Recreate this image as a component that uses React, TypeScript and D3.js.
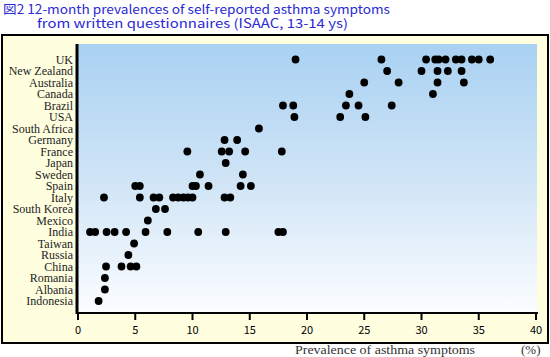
import React from "react";
import * as d3 from "d3";

const countries = [
  "UK", "New Zealand", "Australia", "Canada", "Brazil", "USA", "South Africa",
  "Germany", "France", "Japan", "Sweden", "Spain", "Italy", "South Korea",
  "Mexico", "India", "Taiwan", "Russia", "China", "Romania", "Albania", "Indonesia",
];

const prevalences: number[][] = [
  [19.0, 26.5, 30.4, 31.2, 31.5, 32.1, 33.0, 33.5, 34.4, 35.0, 36.0],
  [27.0, 30.0, 31.4, 32.3, 33.5],
  [25.0, 28.0, 31.4, 33.7],
  [23.7, 31.0],
  [17.9, 18.8, 23.4, 24.5, 27.4],
  [18.9, 22.9, 25.1],
  [15.8],
  [12.8, 13.9],
  [9.55, 12.55, 13.2, 14.6, 17.8],
  [12.9],
  [10.65, 14.4],
  [5.0, 5.4, 10.0, 10.3, 11.4, 14.2, 15.1],
  [2.27, 5.4, 6.6, 7.1, 8.3, 8.75, 9.2, 9.6, 10.0, 12.8, 13.3],
  [6.8, 7.6],
  [6.1],
  [1.05, 1.5, 2.5, 3.2, 4.2, 5.9, 7.8, 10.5, 12.9, 17.5, 17.9],
  [4.9],
  [4.4],
  [2.45, 3.8, 4.6, 5.1],
  [2.35],
  [2.35],
  [1.8],
];

const xTicks = [0, 5, 10, 15, 20, 25, 30, 35, 40];

const titleLines = [
  "図2 12-month prevalences of self-reported asthma symptoms",
  "from written questionnaires (ISAAC, 13-14 ys)",
];
const xAxisTitle = "Prevalence of asthma symptoms";
const unitLabel = "(%)";

export default function App() {
  const W = 550, H = 357;
  const plot = { left: 78, right: 537, top: 44, bottom: 312 };
  const x = d3.scaleLinear().domain([0, 40]).range([78, 536]);
  const y = d3.scalePoint<string>().domain(countries).range([59.5, 301]);
  const gothic = "'Noto Sans CJK JP', 'Noto Sans', sans-serif";
  const serif = "'Liberation Serif', 'DejaVu Serif', serif";

  return (
    <svg width={W} height={H} style={{ display: "block", position: "absolute", left: 0, top: 0 }}>
      <defs>
        <linearGradient id="bg" x1="0" y1="0" x2="0" y2="1">
          <stop offset="0%" stopColor="#a9d1f2" />
          <stop offset="50%" stopColor="#cfe4f6" />
          <stop offset="100%" stopColor="#fbfdff" />
        </linearGradient>
      </defs>
      <rect x={0} y={0} width={W} height={H} fill="#ffffff" />
      <text x={3} y={14} fontFamily={gothic} fontSize={12.5} fill="#2a2ad6" textLength={387} lengthAdjust="spacingAndGlyphs">
        {titleLines[0]}
      </text>
      <text x={37} y={28} fontFamily={gothic} fontSize={12.5} fill="#2a2ad6" textLength={311} lengthAdjust="spacingAndGlyphs">
        {titleLines[1]}
      </text>
      <rect x={2} y={35} width={546} height={308} fill="#ffffe0" stroke="#000" strokeWidth={2} />
      <rect x={plot.left} y={plot.top} width={plot.right - plot.left} height={plot.bottom - plot.top} fill="url(#bg)" />
      {countries.map((c) => (
        <text key={c} x={73} y={(y(c) as number) + 4} textAnchor="end" fontFamily={serif} fontSize={12} fill="#222">
          {c}
        </text>
      ))}
      {prevalences.map((vals, i) =>
        vals.map((v, j) => (
          <circle key={`${i}-${j}`} cx={x(v)} cy={y(countries[i]) as number} r={3.9} fill="#000" />
        ))
      )}
      <line x1={77} y1={plot.top} x2={77} y2={314} stroke="#000" strokeWidth={3} />
      <line x1={76} y1={313} x2={538} y2={313} stroke="#000" strokeWidth={2} />
      {xTicks.map((t) => (
        <g key={t}>
          <line x1={x(t)} y1={313} x2={x(t)} y2={320} stroke="#000" strokeWidth={2} />
          <text x={x(t)} y={334} textAnchor="middle" fontFamily={gothic} fontSize={11} fill="#000">
            {t}
          </text>
        </g>
      ))}
      <text x={295} y={354} fontFamily={serif} fontSize={13} fill="#333" textLength={180} lengthAdjust="spacingAndGlyphs">
        {xAxisTitle}
      </text>
      <text x={521} y={354} fontFamily={serif} fontSize={13} fill="#333">
        {unitLabel}
      </text>
    </svg>
  );
}
